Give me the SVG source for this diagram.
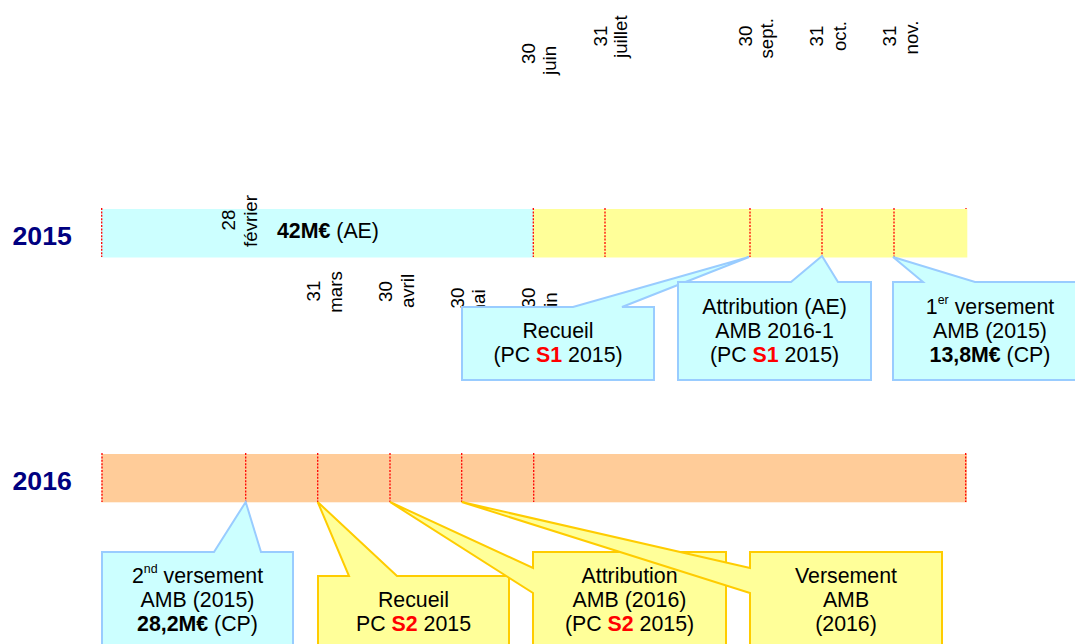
<svg xmlns="http://www.w3.org/2000/svg" width="1075" height="644" viewBox="0 0 1075 644">
<style>
text{font-family:"Liberation Sans",Arial,sans-serif;fill:#000}
.yr{font-size:26.67px;font-weight:bold;fill:#000080}
.lb{font-size:18.67px;text-anchor:middle}
.ct{font-size:21.33px;text-anchor:middle}
.b{font-weight:bold}
.r{font-weight:bold;fill:#ff0000}
.sup{font-size:12.4px}
.dot{stroke:#ff0000;stroke-width:1.3;stroke-dasharray:2 1.4;fill:none}
.cy{fill:#ccffff;stroke:#99ccff;stroke-width:2;stroke-linejoin:miter}
.ye{fill:#ffff99;stroke:#ffcc00;stroke-width:2;stroke-linejoin:miter}
</style>
<rect width="1075" height="644" fill="#fff"/>

<g id="labels-top">
<text class="lb" transform="translate(535,53.5) rotate(-90)">30</text>
<text class="lb" transform="translate(555.5,60.5) rotate(-90)">juin</text>
<text class="lb" transform="translate(607,36) rotate(-90)">31</text>
<text class="lb" transform="translate(626.5,36.7) rotate(-90)">juillet</text>
<text class="lb" transform="translate(752,36) rotate(-90)">30</text>
<text class="lb" transform="translate(772.5,38.3) rotate(-90)">sept.</text>
<text class="lb" transform="translate(823,36) rotate(-90)">31</text>
<text class="lb" transform="translate(846,36) rotate(-90)">oct.</text>
<text class="lb" transform="translate(896,36) rotate(-90)">31</text>
<text class="lb" transform="translate(918,37.5) rotate(-90)">nov.</text>
</g>

<g id="year-2015">
<text class="yr" x="12.5" y="245">2015</text>
</g>
<g id="bar-2015">
<line class="dot" x1="966" y1="208" x2="966" y2="257"/>
<rect x="101.5" y="209" width="431.8" height="48.5" fill="#ccffff"/>
<rect x="533.3" y="209" width="434" height="48.5" fill="#ffff99"/>
<line class="dot" x1="101.7" y1="208" x2="101.7" y2="257"/>
<line class="dot" x1="533.3" y1="208" x2="533.3" y2="257"/>
<line class="dot" x1="605" y1="208" x2="605" y2="257"/>
<line class="dot" x1="750" y1="208" x2="750" y2="257"/>
<line class="dot" x1="822" y1="208" x2="822" y2="257"/>
<line class="dot" x1="894" y1="208" x2="894" y2="257"/>
<text class="ct" x="277" y="238.3" style="text-anchor:start"><tspan class="b">42M€</tspan> (AE)</text>
</g>

<g id="labels-2015">
<text class="lb" transform="translate(235,220) rotate(-90)">28</text>
<text class="lb" transform="translate(256.5,221) rotate(-90)">février</text>
<text class="lb" transform="translate(319.5,291) rotate(-90)">31</text>
<text class="lb" transform="translate(341.7,292) rotate(-90)">mars</text>
<text class="lb" transform="translate(392,291.5) rotate(-90)">30</text>
<text class="lb" transform="translate(414,291) rotate(-90)">avril</text>
<text class="lb" transform="translate(464,298) rotate(-90)">30</text>
<text class="lb" transform="translate(485,304.5) rotate(-90)">mai</text>
<text class="lb" transform="translate(535,298) rotate(-90)">30</text>
<text class="lb" transform="translate(557,307) rotate(-90)">juin</text>
</g>

<g id="connectors"></g>

<g id="callout-recueil-2015">
<path class="cy" d="M462,307 L573,307 L749,257 L622,307 L654,307 L654,380 L462,380 Z"/>
<text class="ct" x="558" y="338">Recueil</text>
<text class="ct" x="558" y="362">(PC <tspan class="r">S1</tspan> 2015)</text>
</g>
<g id="callout-attribution-2015">
<path class="cy" d="M678,282 L791,282 L822,256 L838,282 L871,282 L871,380 L678,380 Z"/>
<text class="ct" x="774.5" y="313.5">Attribution (AE)</text>
<text class="ct" x="774.5" y="337.5">AMB 2016-1</text>
<text class="ct" x="774.5" y="361.5">(PC <tspan class="r">S1</tspan> 2015)</text>
</g>
<g id="callout-versement1-2015">
<path class="cy" d="M893,380 L893,282 L923,282 L893,257 L975,282 L1086,282 L1086,380 Z"/>
<text class="ct" x="990" y="313.5">1<tspan class="sup" dy="-10">er</tspan><tspan dy="10"> versement</tspan></text>
<text class="ct" x="990" y="337.5">AMB (2015)</text>
<text class="ct" x="990" y="361.5"><tspan class="b">13,8M€</tspan> (CP)</text>
</g>

<g id="year-2016">
<text class="yr" x="12.5" y="489.5">2016</text>
</g>
<g id="bar-2016">
<rect x="101.5" y="454" width="865.5" height="48.3" fill="#ffcc99"/>
<line class="dot" x1="102" y1="453" x2="102" y2="502"/>
<line class="dot" x1="245.7" y1="453" x2="245.7" y2="502"/>
<line class="dot" x1="317.7" y1="453" x2="317.7" y2="502"/>
<line class="dot" x1="390" y1="453" x2="390" y2="502"/>
<line class="dot" x1="461.7" y1="453" x2="461.7" y2="502"/>
<line class="dot" x1="533.7" y1="453" x2="533.7" y2="502"/>
<line class="dot" x1="965.7" y1="453" x2="965.7" y2="502"/>
</g>

<g id="callout-versement2-2016">
<path class="cy" d="M102,552 L214,552 L245.7,502 L261,552 L293,552 L293,660 L102,660 Z"/>
<text class="ct" x="197.5" y="582.7">2<tspan class="sup" dy="-10">nd</tspan><tspan dy="10"> versement</tspan></text>
<text class="ct" x="197.5" y="606.7">AMB (2015)</text>
<text class="ct" x="197.5" y="630.7"><tspan class="b">28,2M€</tspan> (CP)</text>
</g>
<g id="callout-recueil-2016">
<path class="ye" d="M318,576 L349,576 L317.7,502 L397,576 L509,576 L509,660 L318,660 Z"/>
<text class="ct" x="413.5" y="606.7">Recueil</text>
<text class="ct" x="413.5" y="630.7">PC <tspan class="r">S2</tspan> 2015</text>
</g>
<g id="callout-attribution-2016">
<path class="ye" d="M533,552 L726,552 L726,660 L533,660 L533,593 L390,502 L533,568 Z"/>
<text class="ct" x="629.5" y="582.7">Attribution</text>
<text class="ct" x="629.5" y="606.7">AMB (2016)</text>
<text class="ct" x="629.5" y="630.7">(PC <tspan class="r">S2</tspan> 2015)</text>
</g>
<g id="callout-versement-2016">
<path class="ye" d="M750,552 L942,552 L942,660 L750,660 L750,593 L461.7,502 L750,568 Z"/>
<text class="ct" x="846" y="582.7">Versement</text>
<text class="ct" x="846" y="606.7">AMB</text>
<text class="ct" x="846" y="630.7">(2016)</text>
</g>
</svg>
